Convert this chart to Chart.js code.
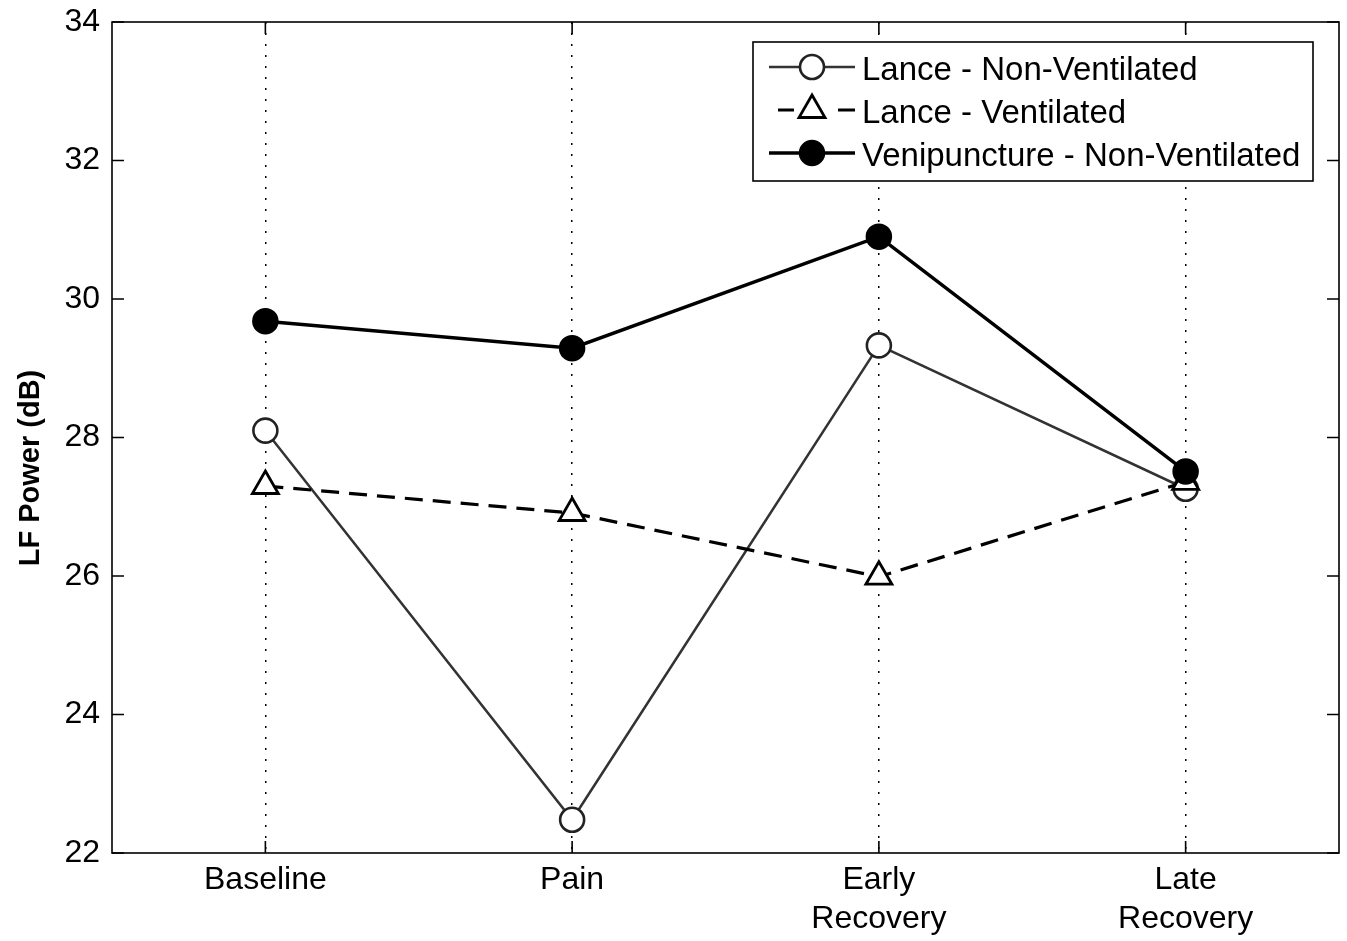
<!DOCTYPE html>
<html>
<head>
<meta charset="utf-8">
<script src="https://cdn.jsdelivr.net/npm/chart.js@4.4.1/dist/chart.umd.min.js"></script>
<style>
html,body{margin:0;padding:0;background:#fff;overflow:hidden;}
#wrap{width:1347px;height:941px;}
canvas{display:block;}
</style>
</head>
<body>
<div id="wrap"><canvas id="c" width="1347" height="941"></canvas></div>
<script>
const categories = [["Baseline"], ["Pain"], ["Early", "Recovery"], ["Late", "Recovery"]];
const yTicks = [22, 24, 26, 28, 30, 32, 34];
const seriesNames = ["Lance - Non-Ventilated", "Lance - Ventilated", "Venipuncture - Non-Ventilated"];
const lanceNonVent = [28.1, 22.48, 29.33, 27.26];
const lanceVent = [27.3, 26.91, 25.99, 27.36];
const venipuncture = [29.68, 29.29, 30.9, 27.51];
const yTitle = "LF Power (dB)";

const FONT = "'Liberation Sans', Arial, sans-serif";

const frame = {
  id: 'frame',
  afterDatasetsDraw(chart) {
    const {ctx, chartArea: a, scales} = chart;
    ctx.save();
    ctx.strokeStyle = '#000';
    ctx.lineWidth = 1.6;
    ctx.setLineDash([]);
    ctx.strokeRect(a.left, a.top, a.right - a.left, a.bottom - a.top);
    const L = 12;
    ctx.beginPath();
    yTicks.forEach(v => {
      const y = scales.y.getPixelForValue(v);
      ctx.moveTo(a.left, y); ctx.lineTo(a.left + L, y);
      ctx.moveTo(a.right, y); ctx.lineTo(a.right - L, y);
    });
    categories.forEach((c, i) => {
      const x = scales.x.getPixelForValue(i);
      ctx.moveTo(x, a.bottom); ctx.lineTo(x, a.bottom - L);
      ctx.moveTo(x, a.top); ctx.lineTo(x, a.top + L);
    });
    ctx.stroke();
    ctx.restore();
  },
  afterDraw(chart) {
    const {ctx} = chart;
    ctx.save();
    ctx.fillStyle = '#000';
    ctx.font = "bold 29px " + FONT;
    ctx.textAlign = 'center';
    ctx.textBaseline = 'middle';
    ctx.translate(31, 468);
    ctx.rotate(-Math.PI / 2);
    ctx.fillText(yTitle, 0, 0);
    ctx.restore();

    // legend
    ctx.save();
    const bx = 753, by = 42, bw = 560, bh = 139;
    ctx.fillStyle = '#fff';
    ctx.fillRect(bx, by, bw, bh);
    ctx.strokeStyle = '#000';
    ctx.lineWidth = 1.6;
    ctx.strokeRect(bx, by, bw, bh);
    const rows = [67, 110, 153];
    const mx = 812;
    chart.data.datasets.forEach((ds, i) => {
      const y = rows[i];
      ctx.save();
      ctx.strokeStyle = ds.borderColor;
      ctx.lineWidth = ds.borderWidth;
      ctx.setLineDash([]);
      ctx.beginPath();
      if (ds.borderDash) {
        ctx.moveTo(778, y); ctx.lineTo(794, y);
        ctx.moveTo(838, y); ctx.lineTo(855, y);
      } else {
        ctx.moveTo(769, y); ctx.lineTo(855, y);
      }
      ctx.stroke();
      ctx.fillStyle = ds.pointBackgroundColor;
      ctx.strokeStyle = ds.pointBorderColor;
      ctx.lineWidth = ds.pointBorderWidth;
      ctx.beginPath();
      if (ds.pointStyle === 'triangle') {
        const r = ds.pointRadius, cy = y;
        ctx.moveTo(mx, cy - r);
        ctx.lineTo(mx + r * 0.866, cy + r * 0.5);
        ctx.lineTo(mx - r * 0.866, cy + r * 0.5);
        ctx.closePath();
      } else {
        ctx.arc(mx, y, ds.pointRadius, 0, Math.PI * 2);
      }
      ctx.fill();
      ctx.stroke();
      ctx.restore();
      ctx.fillStyle = '#000';
      ctx.font = "33px " + FONT;
      ctx.textAlign = 'left';
      ctx.textBaseline = 'middle';
      ctx.fillText(ds.label, 862, y + 4);
    });
    ctx.restore();
  }
};

function noPad(s) { s.paddingTop = 0; s.paddingBottom = 0; s.paddingLeft = 0; s.paddingRight = 0; }

new Chart(document.getElementById('c'), {
  type: 'line',
  data: {
    labels: categories,
    datasets: [
      {
        label: seriesNames[0], data: lanceNonVent, order: 2,
        borderColor: '#333', borderWidth: 2.5,
        pointStyle: 'circle', pointRadius: 12, pointBorderWidth: 2.6,
        pointBackgroundColor: '#fff', pointBorderColor: '#222'
      },
      {
        label: seriesNames[1], data: lanceVent, order: 1,
        borderColor: '#000', borderWidth: 3.2, borderDash: [18, 10],
        pointStyle: 'triangle', pointRadius: 15, pointBorderWidth: 2.8,
        pointBackgroundColor: '#fff', pointBorderColor: '#000'
      },
      {
        label: seriesNames[2], data: venipuncture, order: 0,
        borderColor: '#000', borderWidth: 3.5,
        pointStyle: 'circle', pointRadius: 12.5, pointBorderWidth: 1.5,
        pointBackgroundColor: '#000', pointBorderColor: '#000'
      }
    ]
  },
  options: {
    responsive: false,
    animation: false,
    layout: {autoPadding: false, padding: {top: 22, right: 8, left: 0, bottom: 0}},
    plugins: {legend: {display: false}, tooltip: {enabled: false}, title: {display: false}},
    scales: {
      x: {
        type: 'category',
        offset: true,
        grid: {display: true, offset: false, drawTicks: false, color: '#000', lineWidth: 1.5, drawOnChartArea: true},
        border: {display: false, dash: [2, 9]},
        ticks: {color: '#000', padding: 8, font: {family: FONT, size: 32, lineHeight: 1.22}, maxRotation: 0, autoSkip: false},
        afterFit(s) { s.height = 88; noPad(s); }
      },
      y: {
        min: 22, max: 34,
        grid: {display: false, drawTicks: false},
        border: {display: false},
        ticks: {stepSize: 2, color: '#000', padding: 12, font: {family: FONT, size: 32}},
        afterFit(s) { s.width = 112; noPad(s); }
      }
    }
  },
  plugins: [frame]
});
</script>
</body>
</html>
